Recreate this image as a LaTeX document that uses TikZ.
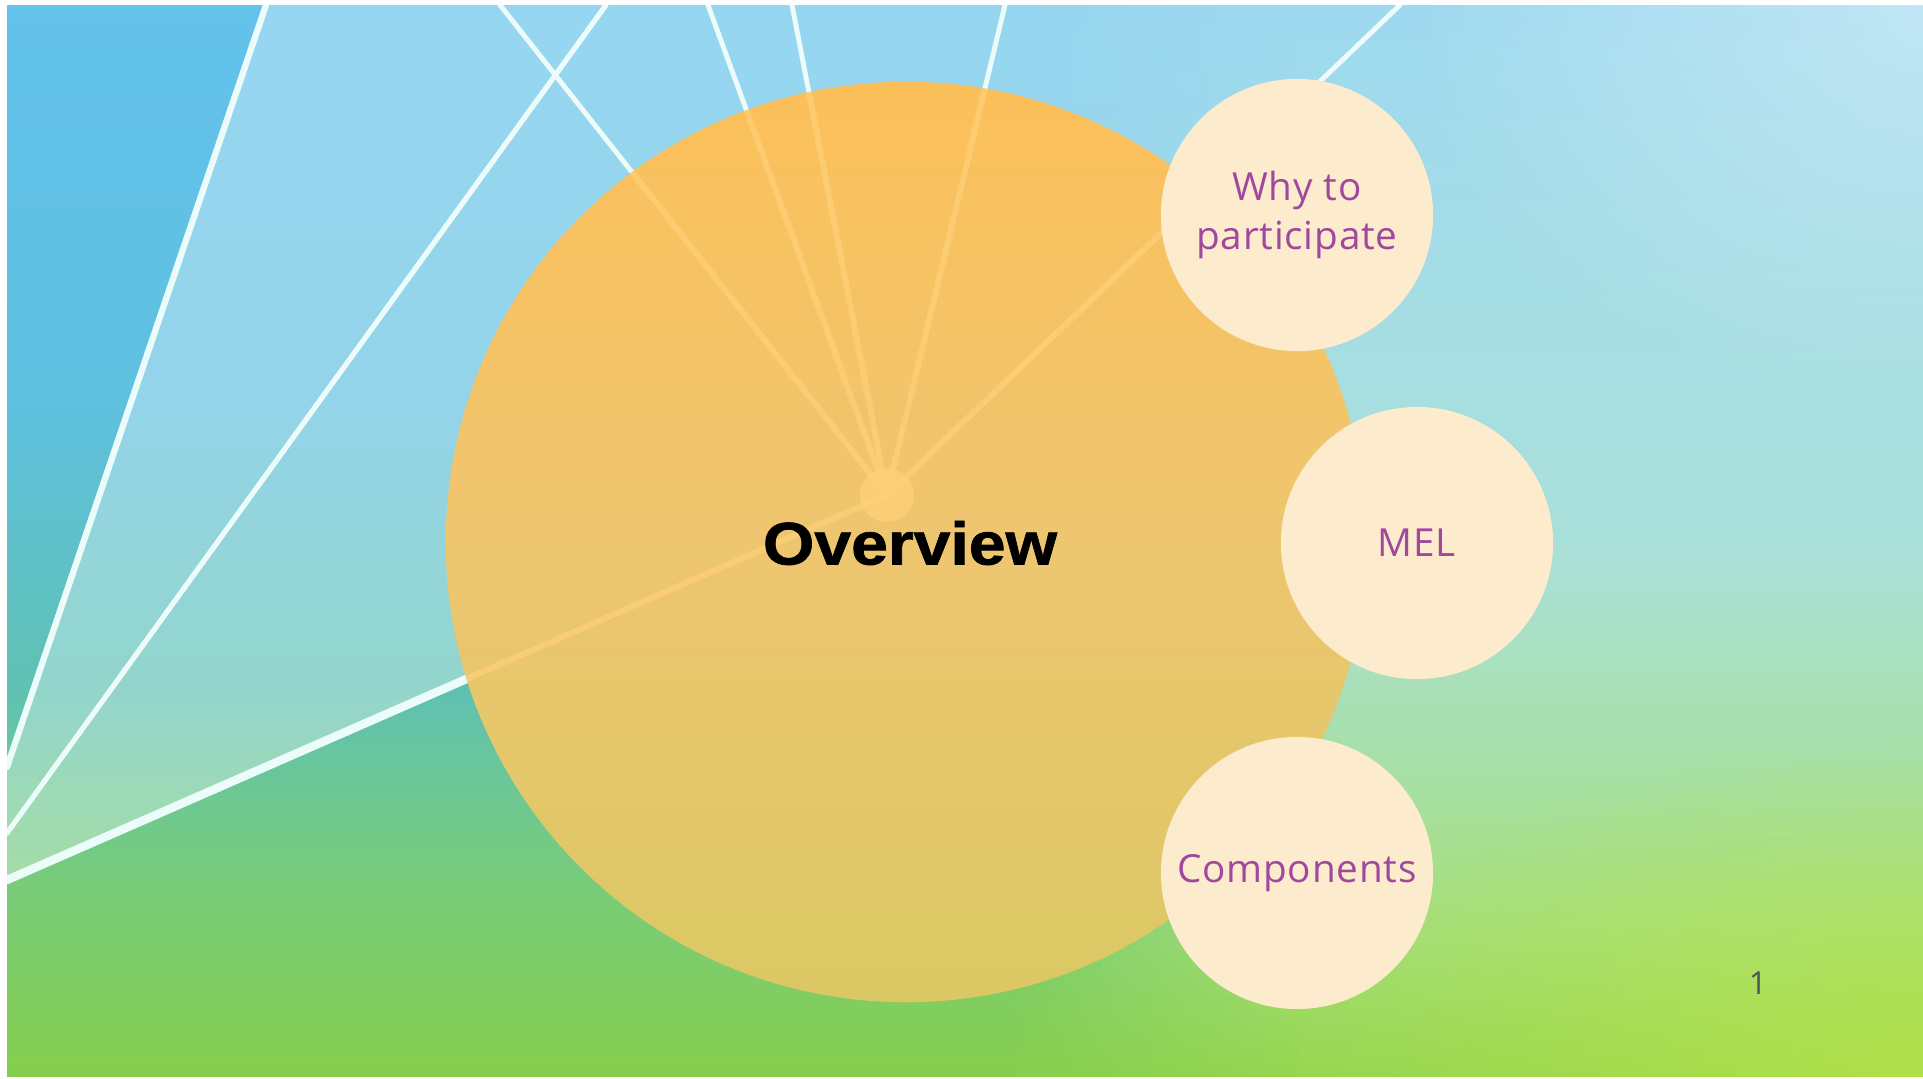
\documentclass[tikz,border=0pt]{standalone}
\usepackage{fontspec}
\setmainfont{Open Sans}
\newfontfamily\labelfont[LetterSpace=2]{Open Sans}
\newfontfamily\headfont[FakeStretch=1.1,FakeBold=1.2]{Liberation Sans}
\usetikzlibrary{fadings}

% slide background, left part
\definecolor{bga}{RGB}{100,194,235}
\definecolor{bgb}{RGB}{95,192,224}
\definecolor{bgc}{RGB}{95,193,178}
\definecolor{bgd}{RGB}{110,200,145}
\definecolor{bge}{RGB}{120,204,122}
\definecolor{bgf}{RGB}{127,205,100}
\definecolor{bgg}{RGB}{134,207,77}
% slide background, right part
\definecolor{rga}{RGB}{158,217,240}
\definecolor{rgb}{RGB}{170,224,218}
\definecolor{rgc}{RGB}{168,224,172}
\definecolor{rgd}{RGB}{165,223,122}
\definecolor{rge}{RGB}{150,214,80}
\definecolor{lime}{RGB}{188,228,70}
\definecolor{rayline}{RGB}{236,252,250}
\definecolor{disctop}{RGB}{252,192,90}
\definecolor{discmid}{RGB}{238,198,112}
\definecolor{discbot}{RGB}{218,200,100}
\definecolor{glow}{RGB}{255,208,120}
\definecolor{cream}{RGB}{253,235,205}
\definecolor{plum}{RGB}{160,72,158}
\definecolor{numgray}{RGB}{75,85,85}

% 25bp = bottom of the slide, 75bp = top
\pgfdeclareverticalshading{slidebg}{100bp}{color(0bp)=(bgg); color(25bp)=(bgg);
  color(29.5bp)=(bgf); color(34bp)=(bge); color(37.8bp)=(bgd); color(43bp)=(bgc);
  color(56.6bp)=(bgb); color(75bp)=(bga); color(100bp)=(bga)}
\pgfdeclareverticalshading{rightbg}{100bp}{color(0bp)=(rge); color(25bp)=(rge);
  color(32bp)=(rgd); color(40.5bp)=(rgc); color(50bp)=(rgb); color(75bp)=(rga);
  color(100bp)=(rga)}
\pgfdeclareverticalshading{discfill}{100bp}{color(0bp)=(discbot); color(25bp)=(discbot);
  color(50bp)=(discmid); color(75bp)=(disctop); color(100bp)=(disctop)}
\tikzfading[name=rampin, left color=transparent!100, right color=transparent!0]
\tikzfading[name=softspot, inner color=transparent!0, outer color=transparent!100]

\begin{document}
\begin{tikzpicture}[x=0.01cm, y=-0.01cm,
    ray/.style={draw=rayline, line width=1.4pt, line cap=round},
    faintray/.style={draw=glow, line width=1.7pt, opacity=0.75},
    topic/.style={circle, fill=cream, minimum size=2.72cm, inner sep=0pt,
      text=plum, align=center, font=\labelfont\fontsize{11}{13.9}\selectfont}]
    \useasboundingbox (0,0) rectangle (1923,1078);
    \fill[white] (0,0) rectangle (1923,1078);

    \coordinate (hub) at (887,495);
    \coordinate (t1) at (500,5);
    \coordinate (t2) at (708,5);
    \coordinate (t3) at (792,5);
    \coordinate (t4) at (1005,5);
    \coordinate (t5) at (1400,5);
    \coordinate (l1) at (7,880);
    \coordinate (a1) at (266,5);
    \coordinate (a2) at (7,767);
    \coordinate (b1) at (606,5);
    \coordinate (b2) at (7,833);

    % background of the slide
    \begin{scope}
        \clip (7,5) rectangle (1923,1076);
        \shade[shading=slidebg] (7,5) rectangle (1923,1076);
        \fill[white, fill opacity=0.33] (a2) -- (a1) -- (t5) -- (hub) -- (l1) -- cycle;
        \begin{scope}
            \clip (1000,5) rectangle (1923,1076);
            \shade[shading=rightbg, path fading=rampin] (1000,5) rectangle (1300,1076);
            \shade[shading=rightbg] (1299,5) rectangle (1923,1076);
        \end{scope}
        \fill[white, fill opacity=0.35, path fading=softspot] (1923,5) ellipse [x radius=520, y radius=420];
        \fill[lime, fill opacity=0.7, path fading=softspot] (1923,1076) ellipse [x radius=650, y radius=330];

        \foreach \e in {t1,t2,t3,t4,t5}
            \draw[ray] (hub) -- (\e);
        \draw[ray, line width=2.4pt] (hub) -- (l1);
        \draw[ray, line width=1.8pt] (a1) -- (a2);
        \draw[ray, line width=1.5pt] (b1) -- (b2);
    \end{scope}

    \node[circle, minimum size=9.2cm, inner sep=0pt, shading=discfill] (overview) at (906,542) {};
    \begin{scope}
        \clip (906,542) circle [radius=460];
        \foreach \e in {t1,t2,t3,t4,t5,l1}
            \draw[faintray] (hub) -- (\e);
        \fill[glow, opacity=0.8] (hub) circle [radius=27];
    \end{scope}
    \node[font=\headfont\bfseries\fontsize{17.1}{20}\selectfont] (title) at (910,543) {Overview};

    \node[topic] (why) at (1297,215) {Why to\\participate};
    \node[topic] (mel) at (1417,543) {MEL};
    \node[topic] (parts) at (1297,873) {Components};

    \node[text=numgray, font=\fontsize{9}{11}\selectfont] (pagenum) at (1758,983) {1};
\end{tikzpicture}
\end{document}
